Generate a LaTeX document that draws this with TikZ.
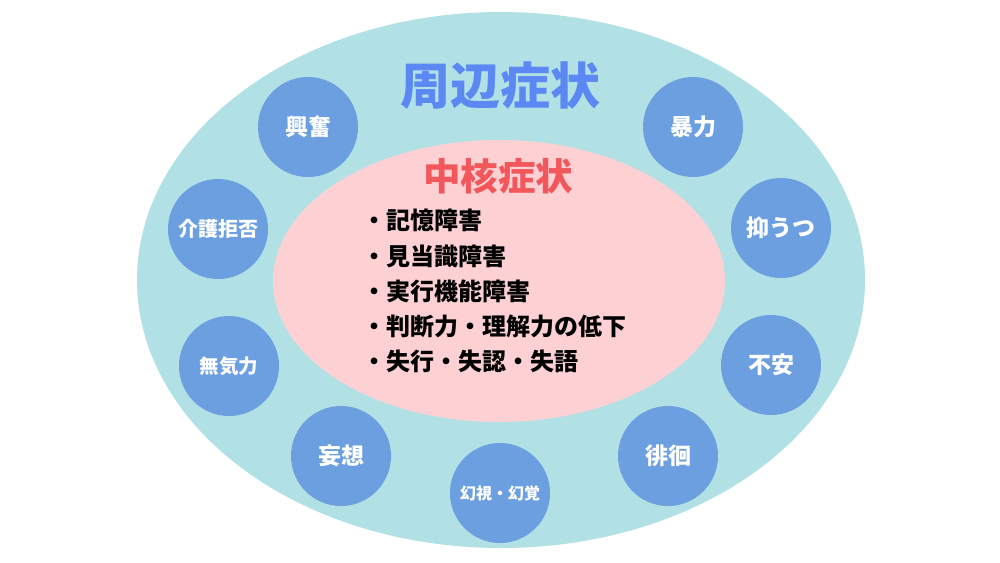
\documentclass[tikz,border=0pt]{standalone}
\usepackage{fontspec}
\usepackage{xcolor}
\setmainfont{Noto Sans CJK JP}
\definecolor{outerfill}{HTML}{B1E1E4}
\definecolor{innerfill}{HTML}{FDD1D3}
\definecolor{symfill}{HTML}{6B9FE0}
\definecolor{titleblue}{HTML}{5B88F2}
\definecolor{titlered}{HTML}{F2575B}

\begin{document}
\begin{tikzpicture}[x=1pt,y=-1pt,
    sym/.style={circle,fill=symfill,minimum size=100pt,inner sep=0pt,text=white,font=\bfseries\fontsize{23}{27}\selectfont},
    symsmall/.style={sym,font=\bfseries\fontsize{19.5}{23}\selectfont},
    symtiny/.style={sym,font=\bfseries\fontsize{16}{19}\selectfont}]
    \useasboundingbox[fill=white] (0,0) rectangle (1000,562);
    \fill[outerfill] (501,280) ellipse [x radius=364, y radius=268];
    \fill[innerfill] (499,281) ellipse [x radius=226, y radius=141];
    \node[text=titleblue,font=\bfseries\fontsize{50}{54}\selectfont] (outer) at (500,86) {周辺症状};
    \node[text=titlered,font=\bfseries\fontsize{37.5}{41}\selectfont] (core) at (498,176) {中核症状};
    \node[anchor=north west,align=left,inner sep=0pt,font=\bfseries\fontsize{24}{35.3}\selectfont] (list) at (362,209)
        {・記憶障害\\・見当識障害\\・実行機能障害\\・判断力・理解力の低下\\・失行・失認・失語};
    \node[sym] (koufun) at (308,127) {興奮};
    \node[sym] (bouryoku) at (693,127) {暴力};
    \node[symsmall,font=\bfseries\fontsize{20}{24}\selectfont] (kaigo) at (218,229) {介護拒否};
    \node[sym] (yokuutsu) at (781,228) {抑うつ};
    \node[symsmall] (mukiryoku) at (229,366) {無気力};
    \node[sym] (fuan) at (771,365) {不安};
    \node[sym] (mousou) at (341,456) {妄想};
    \node[sym] (haikai) at (668,456) {徘徊};
    \node[symtiny] (genshi) at (500,493) {幻視・幻覚};
\end{tikzpicture}
\end{document}
